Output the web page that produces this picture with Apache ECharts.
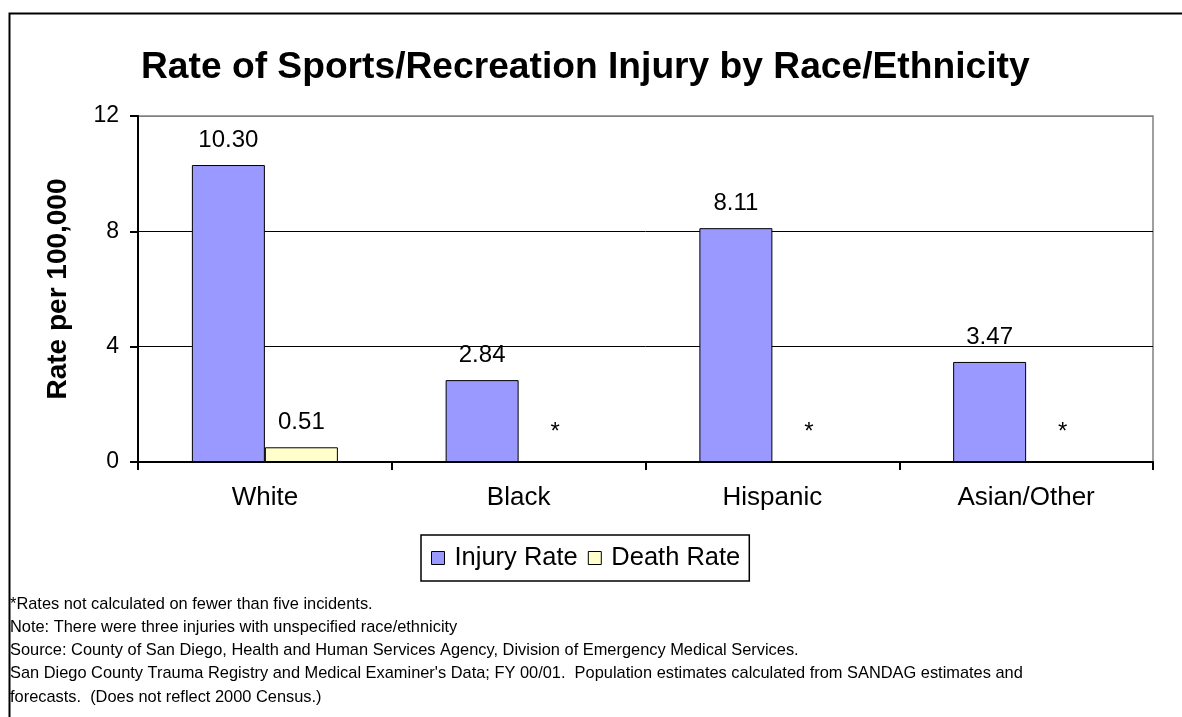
<!DOCTYPE html>
<html>
<head>
<meta charset="utf-8">
<script src="https://cdn.jsdelivr.net/npm/echarts@6/dist/echarts.min.js"></script>
<style>
html,body{margin:0;padding:0;background:#fff;}
#chart{width:1182px;height:717px;}
</style>
</head>
<body>
<div id="chart"></div>
<script>
const categories = ['White', 'Black', 'Hispanic', 'Asian/Other'];
const injuryRate = [10.30, 2.84, 8.11, 3.47];
const deathRate = [0.51, null, null, null]; // null = not calculated (*)
const yTicks = [0, 4, 8, 12];
const titleText = 'Rate of Sports/Recreation Injury by Race/Ethnicity';
const yAxisName = 'Rate per 100,000';
const footnotes = [
  '*Rates not calculated on fewer than five incidents.',
  'Note: There were three injuries with unspecified race/ethnicity',
  'Source: County of San Diego, Health and Human Services Agency, Division of Emergency Medical Services.',
  "San Diego County Trauma Registry and Medical Examiner's Data; FY 00/01.  Population estimates calculated from SANDAG estimates and",
  'forecasts.  (Does not reflect 2000 Census.)'
];

const FONT = '"Liberation Sans", Arial, sans-serif';
const chart = echarts.init(document.getElementById('chart'), null, {renderer: 'canvas'});

const deathData = deathRate.map(v => v === null
  ? {value: 0, itemStyle: {borderWidth: 0, color: 'rgba(0,0,0,0)'}, label: {formatter: '*', distance: 18}}
  : {value: v});

const footGraphics = footnotes.map((t, i) => ({
  type: 'text', left: 10, top: 596 + i * 23.3,
  style: {text: t, font: '16.4px ' + FONT, fill: '#000'}
}));

chart.setOption({
  animation: false,
  backgroundColor: '#fff',
  title: {
    text: titleText, left: 136, top: 44,
    textStyle: {fontFamily: FONT, fontSize: 37.2, fontWeight: 'bold', color: '#000'}
  },
  legend: {
    data: ['Injury Rate', 'Death Rate'],
    left: 421, top: 535,
    icon: 'rect', itemWidth: 13, itemHeight: 13, itemGap: 10,
    borderColor: '#000', borderWidth: 1.5, borderRadius: 0,
    padding: [10, 9, 10, 10],
    textStyle: {fontFamily: FONT, fontSize: 25.5, color: '#000', padding: [0, 0, 0, 5]},
    itemStyle: {borderColor: '#000', borderWidth: 1}
  },
  grid: {
    left: 138, top: 116, right: 29, bottom: 255,
    show: true, borderColor: '#808080', borderWidth: 1.5, backgroundColor: 'transparent'
  },
  xAxis: {
    type: 'category', data: categories,
    axisLine: {lineStyle: {color: '#000', width: 2}},
    axisTick: {show: true, length: 8, interval: 0, lineStyle: {color: '#000', width: 2}},
    axisLabel: {fontFamily: FONT, fontSize: 26, color: '#000', margin: 23, interval: 0}
  },
  yAxis: {
    type: 'value', min: yTicks[0], max: yTicks[yTicks.length - 1], interval: 4,
    name: yAxisName, nameLocation: 'middle', nameGap: 66, nameRotate: 90,
    nameTextStyle: {fontFamily: FONT, fontSize: 28, fontWeight: 'bold', color: '#000'},
    axisLine: {show: true, lineStyle: {color: '#000', width: 2}},
    axisTick: {show: true, length: 8, lineStyle: {color: '#000', width: 2}},
    axisLabel: {fontFamily: FONT, fontSize: 23, color: '#000', margin: 19},
    splitLine: {show: true, lineStyle: {color: ['#000', '#000', '#000', '#808080'], width: 1}}
  },
  series: [
    {
      name: 'Injury Rate', type: 'bar', data: injuryRate,
      barWidth: 73, barGap: '0%',
      itemStyle: {color: '#9999FF', borderColor: '#000', borderWidth: 1},
      label: {show: true, position: 'top', distance: 13, fontFamily: FONT, fontSize: 24, color: '#000',
        formatter: p => p.value.toFixed(2)}
    },
    {
      name: 'Death Rate', type: 'bar', data: deathData,
      barWidth: 73, barGap: '0%',
      itemStyle: {color: '#FFFFCC', borderColor: '#000', borderWidth: 1},
      label: {show: true, position: 'top', distance: 13, fontFamily: FONT, fontSize: 24, color: '#000',
        formatter: p => (typeof p.value === 'number' ? p.value.toFixed(2) : p.value)}
    }
  ],
  graphic: [
    {type: 'rect', left: 7, top: 11, shape: {x: 0, y: 0, width: 1300, height: 900},
      style: {fill: 'none', stroke: '#000', lineWidth: 2}, silent: true, z: -1},
    ...footGraphics
  ]
});
</script>
</body>
</html>
